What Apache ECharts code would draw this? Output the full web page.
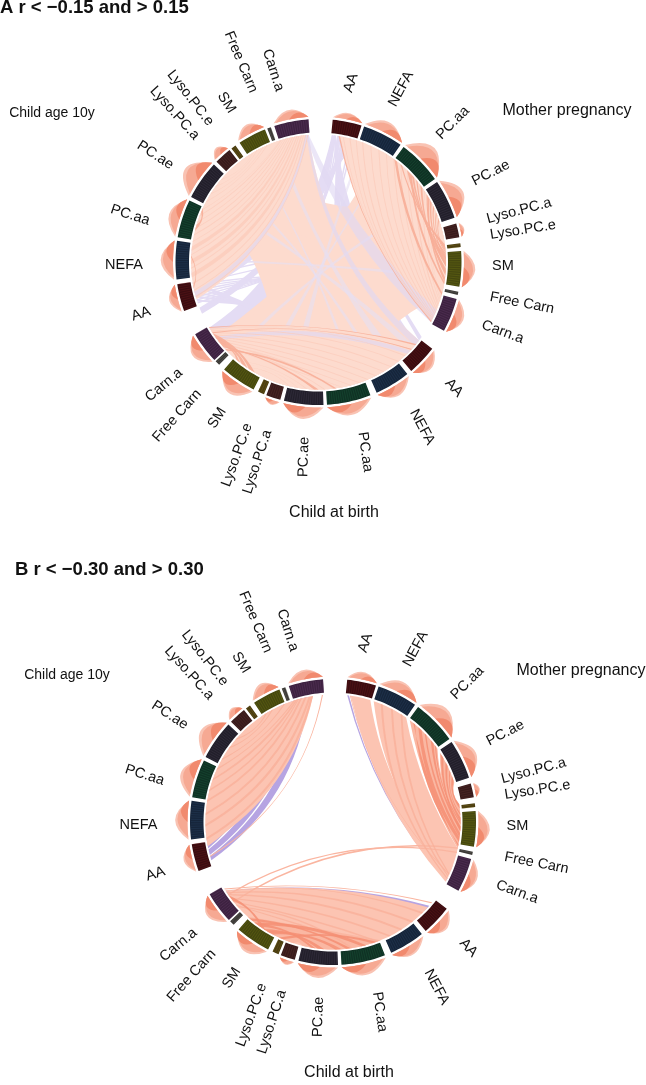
<!DOCTYPE html>
<html><head><meta charset="utf-8">
<style>html,body{margin:0;padding:0;background:#fff}#c{width:646px;height:1085px}</style>
<script src="https://cdn.jsdelivr.net/npm/echarts@6/dist/echarts.min.js"></script></head>
<body><div id="c"></div>
<script>
const sectorNames = ['AA','NEFA','PC.aa','PC.ae','Lyso.PC.a','Lyso.PC.e','SM','Free Carn','Carn.a'];
const motherSpans = [[5.7,17.5],[18.6,35],[36.5,54.5],[56,72],[74.4,80],[82.5,84],[85.6,100],[102,103.3],[105,118.7]];
const birthSpans  = [[127.3,139.6],[141.6,156],[158.7,176.6],[178,194],[195.5,201.4],[202.4,205],[207,221.3],[224,226],[226.7,239.6]];
const childSpans  = [[250,261],[263,278.5],[280,295.5],[297,313],[314.5,321.5],[322.5,324.5],[326.5,338],[339,340.5],[342,356]];
const sectorSpans = motherSpans.concat(birthSpans, childSpans);

const bumpsA = [7,12,18,16,4,0,12,0,11,  10,11,12,13,5,0,14,0,12,  9,13,12,18,8,0,10,0,10];
const bumpsB = [8,12,16,14,5,0,12,0,10,  11,10,12,12,5,0,12,0,12,  9,13,15,16,7,0,11,0,10];

const labelPlaces = [
 [182,10.3,72],[191.7,25.5,62],[193.4,44,45],[194,62.7,27],[207,75.7,15],[207,81.1,9],[184.5,91.2,0],[207.6,101.4,-11],[197,110.8,-20],
 [185,132.9,-48],[195,147.9,-62],[195.6,166.2,-82],[195.5,184.3,88],[209,197,72],[209.5,202.9,70],[186,213,58],[209,222.6,48],[197.5,231.5,40],
 [185,253.7,18],[194.5,269,0],[194,284,-18],[195,303.2,-33],[207,316,-48],[208,322,-52],[184,330,-58],[214.5,338.8,-67],[197,346.7,-72]
];

// links: [from start, from end, to start, to end] in degrees round the circle
const lavenderBaseA = [
 [225,238,6,7.6],
 [6,6.8,196,199],[7.2,8,205,208],[8.4,9.2,214,217],[9.6,10.4,226,229],[10.8,11.6,232,235],[12,12.8,238,239],[13.2,14,246,249],[14.4,15.2,255,258],[15.6,16.4,262,266],[16.6,17.4,272,276],
 [7,7.8,130,134],[8.6,9.4,140,144],[10.2,11,150,155],[11.6,12.4,160,165],[13,13.8,126,128],[14.4,15.2,172,176],[16,16.8,182,186],
 [251,251.7,70,74],[252.3,253,76,80],[253.6,254.3,82,86],[255,255.7,88,92],[256.3,257,94,98],[257.6,258.3,100,103],[259,259.7,104,106],[260.3,261,60,64],[264,264.6,50,56],[268,268.6,66,70],
 [252,252.8,128,131],[254,254.8,134,137],[256,256.8,140,144],[258,258.8,150,155],[260,260.8,160,165],
 [128,128.7,330,334],[129.4,130,340,344],[130.8,131.5,300,306],[132.3,133,348,352],[134,134.7,352,355],[135.6,136.3,315,320],[137,137.6,322,326],[138.4,139,308,312],[142,142.6,344,346]
];
const centerA = [
 [300,355.5,128,200],[285,300,60,100],[38,70,180,234],[290,312,62,106],[300,340,130,170],[62,105,170,232],[30,62,182,225],[300,320,62,80]
];
const lavenderCenterA = [
 [300,302,131,134],[312,313.5,150,152],[328,329,162,164],[270,271.5,96,98],[340,342,140,144],[20,21.5,190,194],[34,35,205,208],[60,62,222,224]
];
const lensA = [[253,304,304,355.5],[9.5,62,62,118.2],[130,184,184,238.5]];
const lavenderOverA = [[354,355.6,112,118.2],[354.6,355.5,128,131],[254,256.5,354,355.2],[134,136,232,234]];
const strandsA = [
 [254,254.5,355,355.4],[257,257.4,354,354.4],[260,260.5,353,353.4],[263,265,352,352.6],[267,267.4,351,351.4],[269,271,350,350.5],[273,273.4,349,349.4],[275,277,348,348.5],[279,279.4,347,347.4],[282,282.5,346,346.3],[285,285.5,345,345.4],[288,288.4,344,344.3],[291,291.5,343,343.4],[294,294.4,342.5,342.8],[298,298.5,336,336.5],[302,302.5,334,334.4],[306,306.4,331,331.4],[310,310.5,329,329.3],
 [11,11.4,117.5,117.8],[14,14.5,117,117.3],[17,17.4,116.5,116.8],[20,20.5,116,116.4],[24,24.4,115.5,115.8],[28,28.5,115,115.3],[32,32.4,114,114.4],[36,36.5,113,113.4],[40,40.4,112,112.4],[44,44.5,111,111.4],[48,48.4,110,110.4],[52,52.5,109,109.3],[56,56.4,108,108.3],[60,60.5,107,107.3],[64,64.4,106,106.3],
 [133,133.4,238.5,238.8],[137,137.5,238,238.3],[141,141.4,237,237.4],[145,145.5,236,236.4],[149,149.4,235,235.4],[153,153.5,234,234.4],[157,157.4,233,233.4],[161,161.5,232,232.4],[165,165.4,231,231.4],[169,169.5,230,230.4],[173,173.4,229,229.3],[177,177.5,228,228.4],[181,181.4,227,227.3],[185,185.5,219,219.4],[189,189.4,217,217.3],[193,193.5,214,214.4]
];
const darkA = [
 [9,9.7,117.6,118.1],[40,41,82,84],[44,46,86,87],[47,48.5,88,90],[50,51,90,92],[53,54.5,93,95],[58,59,94,96],[61,62.5,90,92],[64,65,87,89],[67,68,85,86],[70,71,84,85],[59,60.5,97,99],[46,47,99,100],[36.5,38,104,105],
 [284,287,293,295],[258,259,272,273],
 [130,130.7,238.8,239.3],[133,133.5,236,236.5],[233,236,210,213],[231,234,214,217],[229,232,218,220],[180,182,228,229],[172,173,226,227]
];

const purpleB = [
 [252.5,254.5,345,349],[255,257.5,340,344],[258,260,335,338],[261,262.5,264,266],[6.4,7.2,116,117.5],[131,134,235,237]
];
const fillB = [
 [260,300,342,351],[259,300,300,345],[300,313,326,340],[315,321,326,330],
 [8,17,110,118],[18.6,35,102,112],
 [132,182,182,237]
];
const thinB = [
 [254.2,254.7,355,355.5],[129,129.6,238,238.6],[231,231.6,101.5,102.1],[235,235.6,103.5,104.1],[7.6,8,114,114.5]
];
const midB = [
 [37,55,88,102],[57,72,82,96],
 [158,176,206,222],[178,194,198,216]
];
const strandsB = [
 [262,263,350,351],[268,269,349,350],[273,274,347,348],[279,280,345,346],[284,285,344,344.6],[289,290,343,344],[294,295,342,343],[299,300,337,338],[305,306,331,332],[310,311,328,329],
 [135,136,237,237.6],[141,142,236,236.6],[147,148,235,235.6],[153,154,233,233.6],[159,160,231,231.6],[165,166,229,229.6],[171,172,228,228.6],
 [22,23,116,116.6],[27,28,115,115.6],[32,33,114,114.6]
];
const darkB = [
 [39,40,100,101],[42,44,97,99],[46,47,95,97],[50,52,92,94],[53,54,90,91],[58,60,92,94],[62,64,88,90],[66,67,86,87],[69,71,82,84],
 [176,179,208,211],[184,187,210,213],[165,167,216,218],[172,174,219,221],[188,190,215,218],[160,162,203,205],[232,235,212,215]
];

const ringColors = ['#3a0c10','#16253a','#0f3124','#221f2a','#381b1b','#4a3c10','#45470f','#3c3a36','#3d2240'];
const ringTints  = ['#7a1f22','#2f4a70','#1f6a46','#4a4458','#6a3a36','#8a7a20','#7f8016','#777','#6e4672'];
const ringInner = 129.5, ringOuter = 143, linkEnd = 127.5, bumpBase = 145.5;
const spanTable = [[0,125],[50,105],[76,72],[100,38],[115,36],[130,12],[140,0],[180,0]];

function arcPts(api, r, a, b) {
  const n = Math.max(1, Math.ceil(Math.abs(b - a) / 1.5)), out = [];
  for (let i = 0; i <= n; i++) out.push(api.coord([r, ((a + (b - a) * i / n) % 360 + 360) % 360]));
  return out;
}
function ctrlRadius(span, mid) {
  for (let i = 1; i < spanTable.length; i++) {
    const p = spanTable[i - 1], q = spanTable[i];
    if (span <= q[0]) {
      let c = p[1] + (q[1] - p[1]) * (span - p[0]) / (q[0] - p[0]);
      if (span > 60 && span < 125) c += (mid > 150 && mid < 215) ? 20 : (mid > 40 && mid < 90) ? 10 : 0;
      return c;
    }
  }
  return 0;
}
function ctrlPoint(api, a, b) {
  let d = ((b - a) % 360 + 360) % 360, mid = a + d / 2, span = d;
  if (d > 180) { span = 360 - d; mid = b + span / 2; }
  mid = (mid % 360 + 360) % 360;
  return api.coord([ctrlRadius(span, mid), mid]);
}
const fmt = p => p[0].toFixed(2) + ' ' + p[1].toFixed(2);
function ribbon(color, opacity) {
  return function (params, api) {
    const a1 = api.value(0), a2 = api.value(1), b1 = api.value(2), b2 = api.value(3);
    const A = arcPts(api, linkEnd, a1, a2), B = arcPts(api, linkEnd, b1, b2);
    const c1 = ctrlPoint(api, a2, b1), c2 = ctrlPoint(api, b2, a1);
    let d = 'M' + fmt(A[0]);
    A.slice(1).forEach(p => d += 'L' + fmt(p));
    d += 'Q' + fmt(c1) + ' ' + fmt(B[0]);
    B.slice(1).forEach(p => d += 'L' + fmt(p));
    d += 'Q' + fmt(c2) + ' ' + fmt(A[0]) + 'Z';
    return { type: 'path', shape: { pathData: d }, style: { fill: color, opacity: opacity } };
  };
}
function links(name, data, polarIndex, color, opacity) {
  return { name, type: 'custom', coordinateSystem: 'polar', polarIndex, data, silent: true, animation: false, clip: false,
           renderItem: ribbon(color, opacity) };
}
function renderRing(params, api) {
  const i = params.dataIndex % 9, a = api.value(0), b = api.value(1);
  const pts = arcPts(api, ringOuter, a, b).concat(arcPts(api, ringInner, b, a));
  const kids = [{ type: 'polygon', shape: { points: pts }, style: { fill: ringColors[i] } }];
  for (let t = a + 0.5; t < b; t += 0.95) {
    const p = api.coord([ringInner + 1, t]), q = api.coord([ringOuter - 1, t]);
    kids.push({ type: 'line', shape: { x1: p[0], y1: p[1], x2: q[0], y2: q[1] }, style: { stroke: ringTints[i], lineWidth: 0.7, opacity: 0.4 } });
  }
  return { type: 'group', children: kids };
}
function bumpPath(api, a, b, h) {
  const P = arcPts(api, bumpBase, a, b), c = api.coord([bumpBase + 2 * h, (a + b) / 2]);
  let d = 'M' + fmt(P[0]);
  P.slice(1).forEach(p => d += 'L' + fmt(p));
  return d + 'Q' + fmt(c) + ' ' + fmt(P[0]) + 'Z';
}
function renderBump(params, api) {
  const a = api.value(0), b = api.value(1), h = api.value(2);
  if (!h) return null;
  const w = b - a;
  return { type: 'group', children: [
    { type: 'path', shape: { pathData: bumpPath(api, a, b, h) }, style: { fill: '#f9c3b3' } },
    { type: 'path', shape: { pathData: bumpPath(api, a + w * 0.06, b, h * 0.82) }, style: { fill: '#f6a993' } },
    { type: 'path', shape: { pathData: bumpPath(api, a + w * 0.45, b, h * 0.55) }, style: { fill: '#f18a6e' } }
  ]};
}
function renderLabel(params, api) {
  const p = api.coord([api.value(0), api.value(1)]);
  return { type: 'text', x: p[0], y: p[1], rotation: api.value(2) * Math.PI / 180,
    style: { text: sectorNames[params.dataIndex % 9], font: '14.5px "Liberation Sans"', fill: '#111', align: 'center', verticalAlign: 'middle' } };
}
function panel(i, bumps) {
  return [
    { name: 'bumps', type: 'custom', coordinateSystem: 'polar', polarIndex: i, silent: true, animation: false, clip: false, renderItem: renderBump,
      data: sectorSpans.map((s, k) => [s[0], s[1], bumps[k]]) },
    { name: 'sectors', type: 'custom', coordinateSystem: 'polar', polarIndex: i, silent: true, animation: false, clip: false, renderItem: renderRing,
      data: sectorSpans },
    { name: 'labels', type: 'custom', coordinateSystem: 'polar', polarIndex: i, silent: true, animation: false, clip: false, renderItem: renderLabel,
      data: labelPlaces }
  ];
}
const textEl = (x, y, text, size) => ({ type: 'text', x, y, silent: true, style: { text, font: size + 'px "Liberation Sans"', fill: '#111', align: 'center', verticalAlign: 'middle' } });

const chart = echarts.init(document.getElementById('c'), null, { renderer: 'canvas' });
const centers = [[318.5, 262], [333, 822]];
chart.setOption({
  backgroundColor: '#fff', animation: false,
  title: [
    { text: 'A r < \u22120.15 and > 0.15', left: 0, top: -2, padding: 0, textStyle: { fontFamily: 'Liberation Sans', fontSize: 18.5, fontWeight: 'bold', color: '#111' } },
    { text: 'B r < \u22120.30 and > 0.30', left: 15, top: 560, padding: 0, textStyle: { fontFamily: 'Liberation Sans', fontSize: 18.5, fontWeight: 'bold', color: '#111' } }
  ],
  polar: centers.map(c => ({ center: c, radius: 220 })),
  angleAxis: [0, 1].map(i => ({ polarIndex: i, type: 'value', min: 0, max: 360, startAngle: 90, clockwise: true, show: false })),
  radiusAxis: [0, 1].map(i => ({ polarIndex: i, type: 'value', min: 0, max: 220, show: false })),
  graphic: { elements: [
    textEl(52, 113, 'Child age 10y', 14), textEl(567, 111, 'Mother pregnancy', 16), textEl(334, 513, 'Child at birth', 16),
    textEl(67, 675, 'Child age 10y', 14), textEl(581, 671, 'Mother pregnancy', 16), textEl(349, 1073, 'Child at birth', 16)
  ]},
  series: [
    links('negative base A', lavenderBaseA, 0, '#e4dcf4', 1),
    links('positive centre A', centerA, 0, '#fddbce', 1),
    links('negative centre A', lavenderCenterA, 0, '#e6dff3', 0.6),
    links('positive lens A', lensA, 0, '#fddbce', 1),
    links('negative A', lavenderOverA, 0, '#e0d8f2', 0.65),
    links('positive strands A', strandsA, 0, '#fbccbb', 0.8),
    links('strong A', darkA, 0, '#f7ae98', 0.9),
    ...panel(0, bumpsA),
    links('negative B', purpleB, 1, '#b6a4e2', 1),
    links('positive B', fillB, 1, '#fcc4b2', 1),
    links('thin B', thinB, 1, '#fab5a0', 1),
    links('mid B', midB, 1, '#fab7a2', 1),
    links('positive strands B', strandsB, 1, '#f9b09a', 0.8),
    links('strong B', darkB, 1, '#f48f74', 0.85),
    ...panel(1, bumpsB)
  ]
});
</script></body></html>
